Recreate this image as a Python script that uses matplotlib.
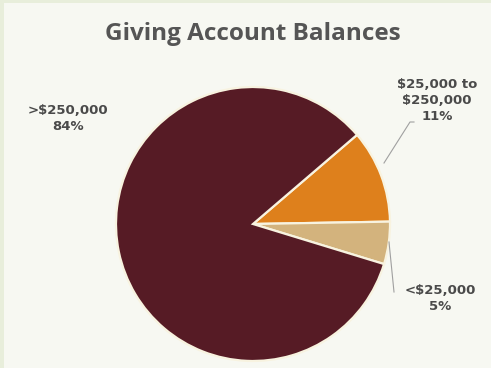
import matplotlib.pyplot as plt
from matplotlib.patches import Rectangle

labels = ["$25,000 to\n$250,000", "<$25,000", ">$250,000"]
shares = [11, 5, 84]
colors = ["#de801c", "#d3b37d", "#561b25"]

W, H = 491, 368
fig = plt.figure(figsize=(W / 100, H / 100), dpi=100, facecolor="#e8eedb")
ax = fig.add_axes([0, 0, 1, 1])

# slide background, leaving the thin green strip on top and left
ax.add_patch(Rectangle((4, 0), W - 4, H - 3, facecolor="#f7f8f2",
                       edgecolor="none", zorder=0))

ax.pie(shares, colors=colors, startangle=40.6, counterclock=False,
       center=(253, H - 224), radius=137, frame=True,
       wedgeprops=dict(edgecolor="#f8f3e0", linewidth=1.6))
ax.set_xlim(0, W)
ax.set_ylim(0, H)
ax.set_aspect("auto")
ax.axis("off")

ax.text(253, H - 34, "Giving Account Balances", ha="center", va="center",
        fontsize=17.5, fontweight="bold", color="#555555", family="Open Sans")

txt = dict(ha="center", va="center", fontsize=9.5, fontweight="bold",
           color="#4a4a4a", family="DejaVu Sans", linespacing=1.3)
ax.text(68, H - 118, f"{labels[2]}\n{shares[2]}%", **txt)
ax.text(437, H - 100, f"{labels[0]}\n{shares[0]}%", **txt)
ax.text(440, H - 299, f"{labels[1]}\n{shares[1]}%", **txt)

# leader lines
ax.plot([384, 410, 414], [H - 163, H - 122, H - 122], color="#a0a0a0", lw=0.8)
ax.plot([389, 394], [H - 242, H - 292], color="#a0a0a0", lw=0.8)

fig.savefig("out.png", dpi=100, facecolor=fig.get_facecolor())
